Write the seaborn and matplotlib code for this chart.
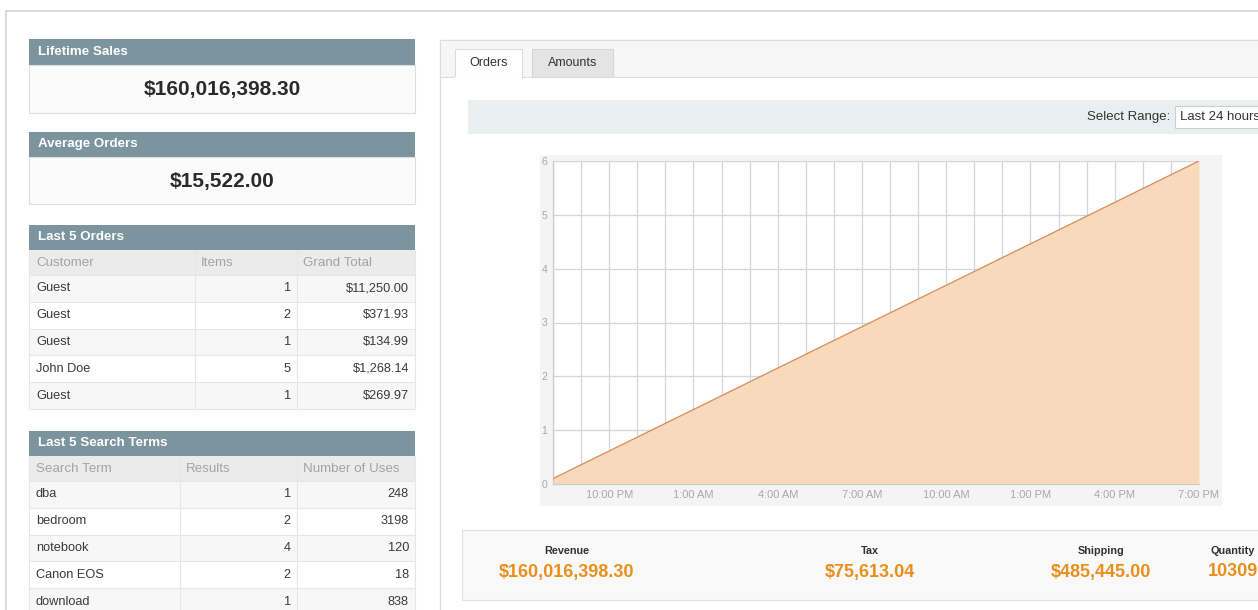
import matplotlib
matplotlib.use("Agg")
import matplotlib.pyplot as plt
from matplotlib.patches import Rectangle
import seaborn as sns

# dane
lifetime_sales = "$160,016,398.30"
average_orders = "$15,522.00"

order_cols = ["Customer", "Items", "Grand Total"]
order_customers = ["Guest", "Guest", "Guest", "John Doe", "Guest"]
order_items = [1, 2, 1, 5, 1]
order_totals = ["$11,250.00", "$371.93", "$134.99", "$1,268.14", "$269.97"]

search_cols = ["Search Term", "Results", "Number of Uses"]
search_terms = ["dba", "bedroom", "notebook", "Canon EOS", "download"]
search_results = [1, 2, 4, 2, 1]
search_uses = [248, 3198, 120, 18, 838]

# wykres: godziny od 8 PM
hours = [0, 23]
orders = [0.1, 6]
tick_hours = [2, 5, 8, 11, 14, 17, 20, 23]
tick_labels = ["10:00 PM", "1:00 AM", "4:00 AM", "7:00 AM",
               "10:00 AM", "1:00 PM", "4:00 PM", "7:00 PM"]

total_labels = ["Revenue", "Tax", "Shipping", "Quantity"]
total_values = ["$160,016,398.30", "$75,613.04", "$485,445.00", "10309"]

sns.set_style("white")
plt.rcParams['font.family'] = ['Liberation Sans', 'DejaVu Sans']

W, H = 1258, 610
fig = plt.figure(figsize=(W / 100, H / 100), dpi=100)
fig.patch.set_facecolor("white")

bg = fig.add_axes([0, 0, 1, 1])
bg.set_xlim(0, W)
bg.set_ylim(H, 0)
bg.axis("off")
bg.set_zorder(0)

head_col = "#7b949e"
border = "#dedede"


def rect(x0, y0, x1, y1, fc, ec="none", lw=0.8):
    bg.add_patch(Rectangle((x0, y0), x1 - x0, y1 - y0, facecolor=fc,
                           edgecolor=ec, linewidth=lw))


def hline(y, x0, x1, c=border, lw=0.8):
    bg.plot([x0, x1], [y, y], color=c, lw=lw)


def vline(x, y0, y1, c=border, lw=0.8):
    bg.plot([x, x], [y0, y1], color=c, lw=lw)


# ramka strony
hline(11, 6, W, "#d5d5d5", 1.2)
vline(6, 11, H, "#d5d5d5", 1.2)

# lewa kolumna - boxy
L, R = 29, 415


def header(y0, y1, title):
    rect(L, y0, R, y1, head_col)
    bg.text(L + 9, (y0 + y1) / 2, title, color="white", fontsize=9.6,
            fontweight="bold", va="center", ha="left")


header(39, 65, "Lifetime Sales")
rect(L, 65, R, 113, "#fbfbfb", border)
bg.text((L + R) / 2, 89, lifetime_sales, fontsize=15, fontweight="bold",
        color="#2b2b2b", ha="center", va="center")

header(132, 157, "Average Orders")
rect(L, 157, R, 204, "#fbfbfb", border)
bg.text((L + R) / 2, 181, average_orders, fontsize=15, fontweight="bold",
        color="#2b2b2b", ha="center", va="center")


def table(y_head, title, cols, c1, c2, c3, sep1, y_end):
    header(y_head, y_head + 25, title)
    top = y_head + 25
    rect(L, top, R, top + 25, "#ebebeb")
    for x, c in zip([L + 7, sep1 + 6, 303], cols):
        bg.text(x, top + 12.5, c, fontsize=9.6, color="#a3a3a3", va="center")
    rh = 26.8
    y = top + 25
    for i in range(len(c1)):
        rect(L, y, R, y + rh, "#f7f7f7" if i % 2 == 0 else "white")
        hline(y, L, R, "#e6e6e6")
        bg.text(L + 7, y + rh / 2, c1[i], fontsize=9.2, color="#3a3a3a", va="center")
        bg.text(291, y + rh / 2, str(c2[i]), fontsize=9.2, color="#3a3a3a",
                va="center", ha="right")
        bg.text(409, y + rh / 2, str(c3[i]), fontsize=9.2, color="#3a3a3a",
                va="center", ha="right")
        y += rh
    bottom = min(y, y_end)
    hline(bottom, L, R, "#e6e6e6")
    vline(sep1, top, bottom, "#e6e6e6")
    vline(297, top, bottom, "#e6e6e6")
    vline(L, top, bottom, "#e6e6e6")
    vline(R, top, bottom, "#e6e6e6")


table(225, "Last 5 Orders", order_cols, order_customers, order_items,
      order_totals, 195, H)
table(431, "Last 5 Search Terms", search_cols, search_terms, search_results,
      search_uses, 180, H + 20)

# prawy panel
PL = 440
rect(PL, 40, W + 5, H + 5, "white", "#dcdcdc", 1.0)
rect(PL + 1, 41, W + 5, 77, "#f6f6f6")
hline(77, PL, W, "#dcdcdc")
rect(455, 49, 522, 78, "white", "#dcdcdc")
hline(77.5, 456, 521, "white", 1.6)
bg.text(488.5, 63, "Orders", fontsize=9, color="#333333", ha="center", va="center")
rect(532, 49, 613, 77, "#e4e4e4", "#d6d6d6")
bg.text(572.5, 63, "Amounts", fontsize=9, color="#333333", ha="center", va="center")

# pasek zakresu
rect(468, 100, W + 5, 134, "#e9efee")
bg.text(1170, 117, "Select Range:", fontsize=9.5, color="#333333", ha="right", va="center")
rect(1175, 106, W + 5, 128, "white", "#cfcfcf")
bg.text(1180, 117, "Last 24 hours", fontsize=9.5, color="#333333", ha="left", va="center")

# tło wykresu
rect(540, 155, 1222, 506, "#f4f4f4")

# totals
rect(462, 530, W + 5, 600, "#f9f9f9", "#e2e2e2")
total_x = [567, 870, 1101, 1233]
for x, lab, val in zip(total_x, total_labels, total_values):
    bg.text(x, 551, lab, fontsize=7.8, fontweight="bold", color="#333333",
            ha="center", va="center")
    bg.text(x, 572, val, fontsize=13, fontweight="bold", color="#eb8f1c",
            ha="center", va="center")

# wykres
x0, x1 = 553, 1199
y0, y1 = 484, 161
ax = fig.add_axes([x0 / W, (H - y0) / H, (x1 - x0) / W, (y0 - y1) / H])
ax.set_zorder(2)
ax.set_facecolor("white")
ax.fill_between(hours, orders, color="#f8d9bc", zorder=2, linewidth=0)
sns.lineplot(x=hours, y=orders, ax=ax, color="#d9915d", linewidth=1.0, zorder=3)
ax.set_xlim(0, 23)
ax.set_ylim(0, 6)
ax.set_xticks(range(0, 24), minor=True)
ax.set_xticks(tick_hours)
ax.set_xticklabels(tick_labels)
ax.set_yticks(range(0, 7))
ax.grid(True, which="both", axis="x", color="#d3d7dd", linewidth=0.9, zorder=1)
ax.grid(True, which="major", axis="y", color="#d3d7dd", linewidth=0.9, zorder=1)
ax.set_axisbelow(True)
ax.tick_params(axis="x", which="both", length=0, labelsize=8,
               labelcolor="#a8a8a8", pad=4)
ax.tick_params(axis="y", which="both", length=0, labelsize=7.5,
               labelcolor="#a8a8a8", pad=4)
for side in ["top", "right"]:
    ax.spines[side].set_visible(False)
for side in ["left", "bottom"]:
    ax.spines[side].set_color("#cccccc")
    ax.spines[side].set_linewidth(0.9)
ax.set_xlabel("")
ax.set_ylabel("")

fig.savefig("out.png", dpi=100)
